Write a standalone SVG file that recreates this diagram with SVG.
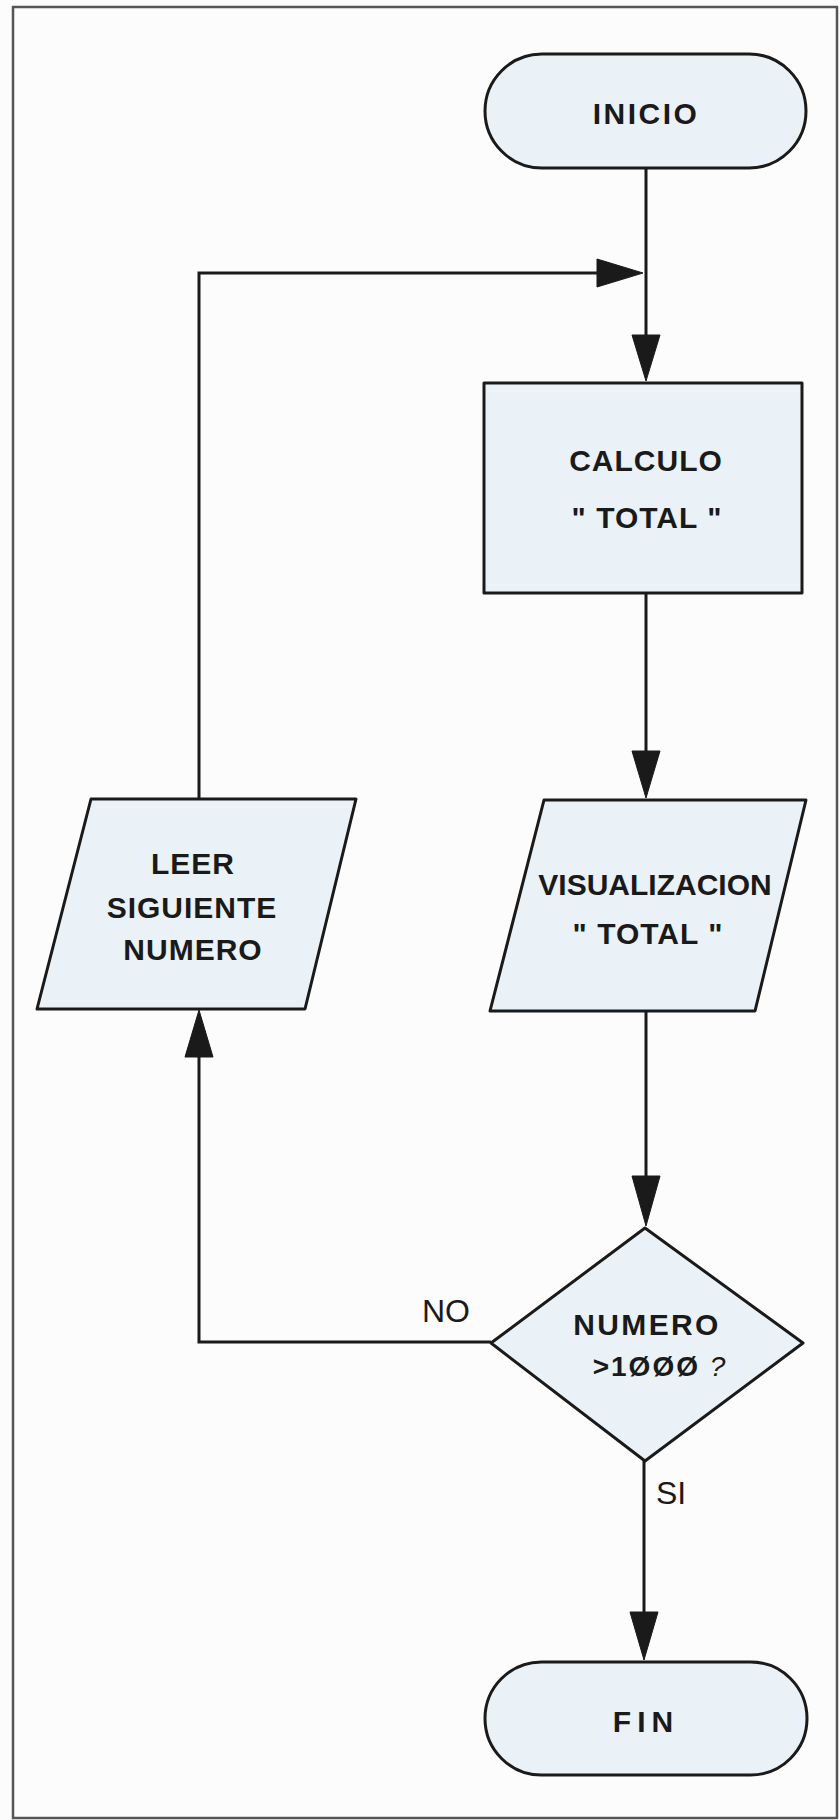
<svg xmlns="http://www.w3.org/2000/svg" width="840" height="1820" viewBox="0 0 840 1820">
  <defs>
    <style>
      .shape { fill: #eaf2f7; stroke: #1a1a1a; stroke-width: 3; stroke-linejoin: round; }
      .line { fill: none; stroke: #1a1a1a; stroke-width: 3; }
      .head { fill: #1a1a1a; stroke: #1a1a1a; stroke-width: 1; stroke-linejoin: miter; }
      .t { font-family: "Liberation Sans", Arial, sans-serif; font-weight: 700; font-size: 30px; fill: #1a1a1a; text-anchor: middle; }
      .lbl { font-family: "Liberation Sans", Arial, sans-serif; font-weight: 400; font-size: 32px; fill: #1a1a1a; }
    </style>
  </defs>
  <rect x="0" y="0" width="840" height="1820" fill="#fcfcfc"/>
  <rect x="13" y="7" width="824" height="1811" fill="none" stroke="#555" stroke-width="2.5"/>

  <g id="connectors">
    <!-- INICIO to CALCULO -->
    <line class="line" x1="646" y1="168" x2="646" y2="340"/>
    <polygon class="head" points="632,335 660,335 646,381"/>
    <!-- loop merge from left -->
    <polyline class="line" points="199,799 199,273 600,273"/>
    <polygon class="head" points="597,259 597,287 643,273"/>
    <!-- CALCULO to VISUALIZACION -->
    <line class="line" x1="646" y1="593" x2="646" y2="755"/>
    <polygon class="head" points="632,751 660,751 646,798"/>
    <!-- VISUALIZACION to decision -->
    <line class="line" x1="646" y1="1011" x2="646" y2="1180"/>
    <polygon class="head" points="632,1176 660,1176 646,1226"/>
    <!-- NO branch back to LEER -->
    <polyline class="line" points="491,1342 199,1342 199,1052"/>
    <polygon class="head" points="185,1057 213,1057 199,1010"/>
    <!-- SI branch to FIN -->
    <line class="line" x1="644" y1="1461" x2="644" y2="1615"/>
    <polygon class="head" points="630,1612 658,1612 644,1660"/>
    <text class="lbl" x="422" y="1322">NO</text>
    <text class="lbl" x="656" y="1504">SI</text>
  </g>

  <g id="inicio">
    <rect class="shape" x="485" y="54" width="321" height="114" rx="57" ry="57"/>
    <text class="t" x="646" y="124" letter-spacing="2.5">INICIO</text>
  </g>

  <g id="calculo">
    <rect class="shape" x="484" y="383" width="318" height="210"/>
    <text class="t" x="646" y="471" letter-spacing="1">CALCULO</text>
    <text class="t" x="647" y="528" letter-spacing="1">" TOTAL "</text>
  </g>

  <g id="leer">
    <polygon class="shape" points="91,799 356,799 305,1009 37,1009"/>
    <text class="t" x="193" y="874" letter-spacing="1">LEER</text>
    <text class="t" x="192" y="918" letter-spacing="1">SIGUIENTE</text>
    <text class="t" x="193" y="960" letter-spacing="1">NUMERO</text>
  </g>

  <g id="visualizacion">
    <polygon class="shape" points="544,800 806,800 755,1011 490,1011"/>
    <text class="t" x="655" y="895">VISUALIZACION</text>
    <text class="t" x="648" y="944" letter-spacing="1">" TOTAL "</text>
  </g>

  <g id="decision">
    <polygon class="shape" points="645,1228 803,1343 645,1461 491,1343"/>
    <text class="t" x="647" y="1335" letter-spacing="2.4">NUMERO</text>
    <text class="t" x="660" y="1376" style="font-size:28px" letter-spacing="2">&gt;1ØØØ <tspan font-style="italic" font-weight="400">?</tspan></text>
  </g>

  <g id="fin">
    <rect class="shape" x="485" y="1662" width="322" height="113" rx="56.5" ry="56.5"/>
    <text class="t" x="646" y="1732" letter-spacing="6">FIN</text>
  </g>
</svg>
